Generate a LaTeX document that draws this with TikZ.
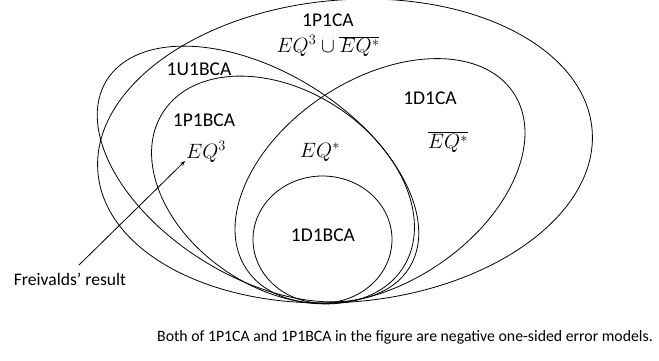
\documentclass[tikz,border=0pt]{standalone}
\usepackage{fontspec}
\setmainfont{Carlito}
\usetikzlibrary{shapes.geometric,arrows.meta}
\begin{document}
\begin{tikzpicture}[x=1pt,y=-1pt,
  setshape/.style={draw=black, line width=0.8pt, ellipse, inner sep=0pt, outer sep=0pt},
  lab/.style={font=\fontsize{19.5}{22}\selectfont, inner sep=0pt},
  smalltext/.style={font=\fontsize{17.6}{20}\selectfont, inner sep=0pt},
  captext/.style={font=\fontsize{15.8}{18}\selectfont, inner sep=0pt}]
\useasboundingbox (0,0) rectangle (659,360);
% sets
\node[setshape, minimum width=496pt, minimum height=302pt, rotate=5] (p1ca) at (345,151) {};
\node[setshape, minimum width=356pt, minimum height=205pt, rotate=-31.7] (u1bca) at (258,174) {};
\node[setshape, minimum width=286pt, minimum height=198pt, rotate=-33.1] (p1bca) at (283,190) {};
\node[setshape, minimum width=320pt, minimum height=204pt, rotate=33.3] (d1ca) at (380,181) {};
\node[setshape, minimum width=139pt, minimum height=127pt] (d1bca) at (322.5,239.5) {};
% labels
\node[lab] (lp1ca) at (328,20) {1P1CA};
\node[lab] (lform) at (328,46) {$EQ^3\cup\overline{EQ^*}$};
\node[lab] (lu1bca) at (199,69) {1U1BCA};
\node[lab] (lp1bca) at (204,120) {1P1BCA};
\node[lab] (leq3) at (206,152) {$EQ^3$};
\node[lab] (leqs) at (320,152) {$EQ^*$};
\node[lab] (ld1ca) at (430,98) {1D1CA};
\node[lab] (leqsb) at (448,142) {$\overline{EQ^*}$};
\node[lab] (ld1bca) at (323,235) {1D1BCA};
\node[smalltext] (fr) at (70,279) {Freivalds’ result};
\node[captext] (caption) at (405,337) {Both of 1P1CA and 1P1BCA in the figure are negative one-sided error models.};
% arrow
\coordinate (atail) at (79,265);
\coordinate (ahead) at (185,161);
\draw[line width=0.8pt, -{Stealth[length=5pt,width=4pt]}] (atail) -- (ahead);
\end{tikzpicture}
\end{document}
